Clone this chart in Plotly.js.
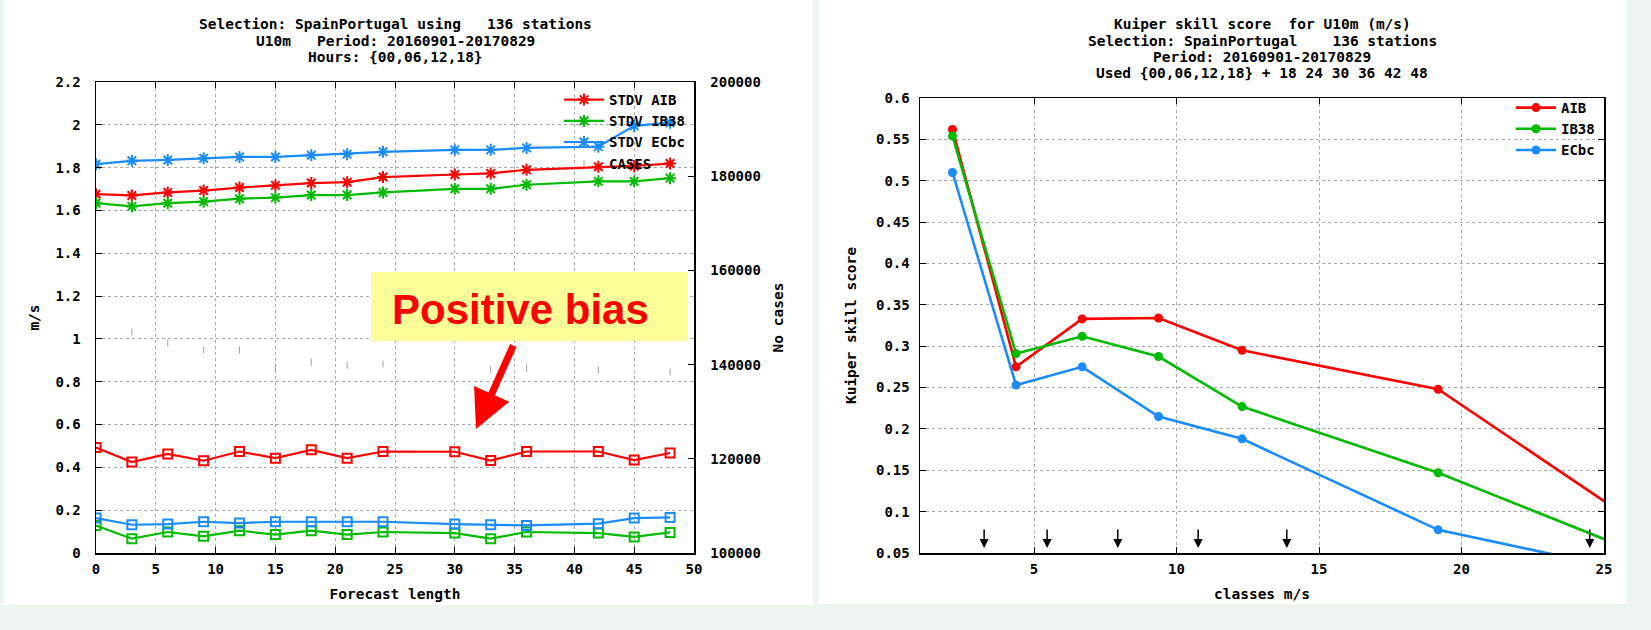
<!DOCTYPE html>
<html>
<head>
<meta charset="utf-8">
<script src="https://cdn.plot.ly/plotly-3.0.1.min.js"></script>
<style>
  html, body { margin: 0; padding: 0; background: #edf5ee; }
  #wrap { position: relative; width: 1651px; height: 630px; overflow: hidden; }
  .panel { position: absolute; background: #ffffff; }
  #chart { position: absolute; left: 0; top: 0; width: 1651px; height: 630px; }
</style>
</head>
<body>
<div id="wrap">
  <div class="panel" style="left:4px;top:0;width:809px;height:605px;"></div>
  <div class="panel" style="left:819px;top:0;width:808px;height:604px;"></div>
  <div id="chart"></div>
</div>
<script>
// ---------------- Left panel data ----------------
const leadTimes = [0, 3, 6, 9, 12, 15, 18, 21, 24, 30, 33, 36, 42, 45, 48];
const stdvAib  = [1.676, 1.670, 1.684, 1.693, 1.707, 1.717, 1.728, 1.732, 1.756, 1.768, 1.773, 1.790, 1.804, 1.808, 1.819];
const stdvIb38 = [1.634, 1.619, 1.634, 1.641, 1.655, 1.660, 1.672, 1.672, 1.684, 1.701, 1.701, 1.720, 1.736, 1.736, 1.751];
const stdvEcbc = [1.816, 1.832, 1.836, 1.844, 1.850, 1.850, 1.858, 1.863, 1.874, 1.883, 1.883, 1.892, 1.898, 1.995, 2.010];
const biasAib  = [0.493, 0.425, 0.463, 0.431, 0.474, 0.443, 0.482, 0.443, 0.474, 0.473, 0.432, 0.474, 0.474, 0.434, 0.467];
const biasIb38 = [0.128, 0.067, 0.098, 0.078, 0.104, 0.086, 0.104, 0.086, 0.098, 0.093, 0.067, 0.098, 0.093, 0.075, 0.096];
const biasEcbc = [0.163, 0.132, 0.135, 0.146, 0.140, 0.146, 0.146, 0.146, 0.146, 0.135, 0.132, 0.129, 0.137, 0.163, 0.166];
const casesLead  = [3, 6, 9, 12, 15, 18, 21, 24, 33, 36, 42, 48];
const casesCount = [146900, 144600, 143100, 143100, 139300, 140500, 139900, 140100, 138900, 139300, 138900, 138400];
const leftTitleLines = [
  "Selection: SpainPortugal using   136 stations",
  "U10m   Period: 20160901-20170829",
  "Hours: {00,06,12,18}"
];

// ---------------- Right panel data ----------------
const classMid   = [2.14, 4.37, 6.69, 9.37, 12.30, 19.18, 29.5];
const kuiperAib  = [0.562, 0.275, 0.333, 0.334, 0.295, 0.248, 0.008];
const kuiperIb38 = [0.554, 0.291, 0.312, 0.2875, 0.227, 0.147, 0.005];
const kuiperEcbc = [0.510, 0.253, 0.275, 0.215, 0.188, 0.078, 0.002];
const classLimits = [3.25, 5.46, 7.94, 10.76, 13.87, 24.5];
const rightTitleLines = [
  "Kuiper skill score  for U10m (m/s)",
  "Selection: SpainPortugal    136 stations",
  "Period: 20160901-20170829",
  "Used {00,06,12,18} + 18 24 30 36 42 48"
];

// ---------------- Styling ----------------
const RED = '#ff0000', GREEN = '#00bb00', BLUE = '#1a8cff';
const MONO = 'DejaVu Sans Mono, Liberation Mono, monospace';
const W = 1651, H = 630;
const px = v => v / W;
const py = v => 1 - v / H;
const nb = s => s.replace(/ /g, '\u00a0');
const monoFont = (size) => ({ family: MONO, size: size, color: '#000', weight: 'bold' });

function stdvTrace(y, name, color) {
  return { x: leadTimes, y: y, name: name, type: 'scatter', mode: 'lines+markers',
    xaxis: 'x', yaxis: 'y', legend: 'legend',
    line: { color: color, width: 2.2 },
    marker: { symbol: 'asterisk-open', size: 10, color: color, line: { color: color, width: 2 } } };
}
function biasTrace(y, name, color) {
  return { x: leadTimes, y: y, name: name, type: 'scatter', mode: 'lines+markers',
    xaxis: 'x', yaxis: 'y', showlegend: false,
    line: { color: color, width: 2.2 },
    marker: { symbol: 'square-open', size: 9, color: color, line: { color: color, width: 2 } } };
}
function kuiperTrace(y, name, color) {
  return { x: classMid, y: y, name: name, type: 'scatter', mode: 'lines+markers',
    xaxis: 'x2', yaxis: 'y3', legend: 'legend2', cliponaxis: true,
    line: { color: color, width: 2.6 },
    marker: { symbol: 'circle', size: 9, color: color } };
}

const traces = [
  stdvTrace(stdvAib, 'STDV AIB', RED),
  stdvTrace(stdvIb38, 'STDV IB38', GREEN),
  stdvTrace(stdvEcbc, 'STDV ECbc', BLUE),
  { x: casesLead, y: casesCount, name: 'CASES', type: 'scatter', mode: 'markers',
    xaxis: 'x', yaxis: 'y2', legend: 'legend',
    marker: { symbol: 'line-ns-open', size: 5, color: '#a0a0a0', line: { color: '#a0a0a0', width: 1 } } },
  biasTrace(biasAib, 'BIAS AIB', RED),
  biasTrace(biasIb38, 'BIAS IB38', GREEN),
  biasTrace(biasEcbc, 'BIAS ECbc', BLUE),
  kuiperTrace(kuiperAib, 'AIB', RED),
  kuiperTrace(kuiperIb38, 'IB38', GREEN),
  kuiperTrace(kuiperEcbc, 'ECbc', BLUE)
];

const tickFont = monoFont(14);
const gridCommon = { showgrid: true, gridcolor: '#a8a8a8', griddash: 'dot', gridwidth: 1,
  showline: true, linecolor: '#000', linewidth: 1.5, ticks: 'inside', ticklen: 6,
  tickcolor: '#000', zeroline: false, tickfont: tickFont };

const annotations = [];
leftTitleLines.forEach((t, i) => annotations.push({
  xref: 'paper', yref: 'paper', x: px(395), y: py(24.5 + i * 16.3), xanchor: 'center', yanchor: 'middle',
  text: nb(t), showarrow: false, font: monoFont(14.5) }));
rightTitleLines.forEach((t, i) => annotations.push({
  xref: 'paper', yref: 'paper', x: px(1262), y: py(24.5 + i * 16.3), xanchor: 'center', yanchor: 'middle',
  text: nb(t), showarrow: false, font: monoFont(14.5) }));
annotations.push({
  xref: 'paper', yref: 'paper', x: px(520), y: py(309), xanchor: 'center', yanchor: 'middle',
  text: '<b>Positive bias</b>', showarrow: false,
  font: { family: 'Liberation Sans, Arial, sans-serif', size: 42, color: RED } });
annotations.push({
  xref: 'x', yref: 'y', x: 31.77, y: 0.579, ax: 38, ay: -85, axref: 'pixel', ayref: 'pixel',
  text: '', showarrow: true, arrowhead: 2, arrowsize: 1.1, arrowwidth: 7, arrowcolor: RED });
classLimits.forEach(c => annotations.push({
  xref: 'x2', yref: 'y3', x: c, y: 0.056, ax: 0, ay: -20, text: '', showarrow: true,
  arrowhead: 2, arrowsize: 1.2, arrowwidth: 1.5, arrowcolor: '#000' }));

const layout = {
  width: W, height: H,
  margin: { l: 0, r: 0, t: 0, b: 0 },
  paper_bgcolor: 'rgba(0,0,0,0)', plot_bgcolor: 'rgba(0,0,0,0)',
  font: monoFont(14),
  showlegend: true,
  xaxis: Object.assign({}, gridCommon, { domain: [px(96), px(694)], range: [0, 50], dtick: 5, tick0: 0,
    anchor: 'y', mirror: 'ticks', ticklabelstandoff: 3,
    title: { text: 'Forecast length', font: monoFont(14.5), standoff: 12 } }),
  yaxis: Object.assign({}, gridCommon, { domain: [py(553), py(82)], range: [0, 2.2], dtick: 0.2, tick0: 0,
    anchor: 'x', mirror: true, ticklabelstandoff: 11,
    title: { text: 'm/s', font: monoFont(14.5), standoff: 12 } }),
  yaxis2: { overlaying: 'y', side: 'right', anchor: 'x', range: [100000, 200000], dtick: 20000, tick0: 100000,
    tickformat: 'd', showgrid: false, zeroline: false, showline: true, linecolor: '#000', linewidth: 1.5,
    ticks: 'inside', ticklen: 6, tickcolor: '#000', tickfont: tickFont, ticklabelstandoff: 12,
    title: { text: 'No cases', font: monoFont(14.5), standoff: 13 } },
  xaxis2: Object.assign({}, gridCommon, { domain: [px(920), px(1604)], range: [1, 25], dtick: 5, tick0: 0,
    anchor: 'y3', mirror: 'ticks', ticklabelstandoff: 3,
    title: { text: 'classes m/s', font: monoFont(14.5), standoff: 12 } }),
  yaxis3: Object.assign({}, gridCommon, { domain: [py(553), py(98)], range: [0.05, 0.6], dtick: 0.05, tick0: 0,
    anchor: 'x2', mirror: 'ticks', ticklabelstandoff: 6,
    title: { text: 'Kuiper skill score', font: monoFont(14.5), standoff: 16 } }),
  legend: { x: px(690), y: py(84), xanchor: 'right', yanchor: 'top', bgcolor: 'rgba(0,0,0,0)',
    font: monoFont(14), tracegroupgap: 0, itemwidth: 40 },
  legend2: { x: px(1600), y: py(92), xanchor: 'right', yanchor: 'top', bgcolor: 'rgba(0,0,0,0)',
    font: monoFont(14), tracegroupgap: 0, itemwidth: 40 },
  shapes: [
    { type: 'rect', xref: 'paper', yref: 'paper', x0: px(371), x1: px(687), y0: py(341), y1: py(272),
      fillcolor: '#ffff99', line: { width: 0 }, layer: 'above' }
  ],
  annotations: annotations
};

Plotly.newPlot('chart', traces, layout, { displayModeBar: false, staticPlot: true });
</script>
</body>
</html>
